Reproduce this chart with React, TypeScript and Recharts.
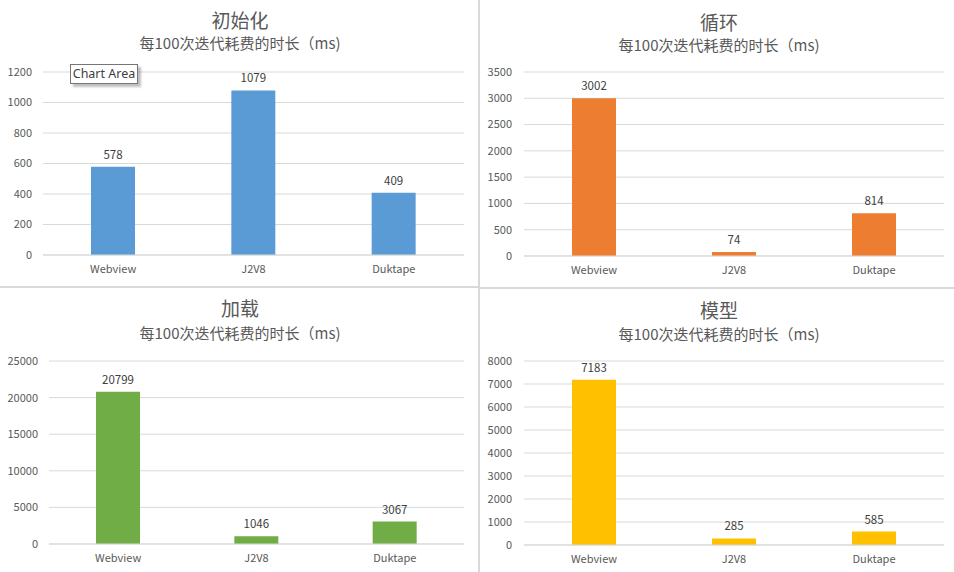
import React from 'react';
import { BarChart, Bar, XAxis, YAxis, CartesianGrid, LabelList } from 'recharts';

const categories = ['Webview', 'J2V8', 'Duktape'];
const initValues = [578, 1079, 409];
const loopValues = [3002, 74, 814];
const loadValues = [20799, 1046, 3067];
const modelValues = [7183, 285, 585];

const initTicks = [0, 200, 400, 600, 800, 1000, 1200];
const loopTicks = [0, 500, 1000, 1500, 2000, 2500, 3000, 3500];
const loadTicks = [0, 5000, 10000, 15000, 20000, 25000];
const modelTicks = [0, 1000, 2000, 3000, 4000, 5000, 6000, 7000, 8000];

const subtitle = '每100次迭代耗费的时长（ms)';
const FONT = '"Noto Sans CJK SC", "Noto Sans", sans-serif';
const TEXT = '#595959';

type PanelProps = {
  left: number;
  top: number;
  width: number;
  height: number;
  title: string;
  values: number[];
  ticks: number[];
  color: string;
  titleY: number;
  subY: number;
  titleX: number;
  margin: { top: number; right: number; left: number; bottom: number };
  yWidth: number;
  yTickMargin: number;
  xTickMargin: number;
  children?: React.ReactNode;
};

function Panel(p: PanelProps) {
  const data = categories.map((c, i) => ({ name: c, value: p.values[i] }));
  return (
    <div style={{ position: 'absolute', left: p.left, top: p.top, width: p.width, height: p.height, background: '#fff', fontFamily: FONT }}>
      <div style={{ position: 'absolute', left: 0, width: p.titleX * 2, top: p.titleY - 12, height: 24, lineHeight: '24px', textAlign: 'center', fontSize: 19, color: TEXT }}>{p.title}</div>
      <div style={{ position: 'absolute', left: 0, width: p.titleX * 2, top: p.subY - 10, height: 20, lineHeight: '20px', textAlign: 'center', fontSize: 15, color: TEXT }}>{subtitle}</div>
      <div style={{ position: 'absolute', left: 0, top: 0 }}>
        <BarChart width={p.width} height={p.height} data={data} margin={p.margin}>
          <CartesianGrid vertical={false} stroke="#D9D9D9" />
          <XAxis
            dataKey="name"
            tickLine={false}
            axisLine={{ stroke: '#D9D9D9' }}
            tick={{ fill: TEXT, fontSize: 11, fontFamily: FONT }}
            tickMargin={p.xTickMargin}
            height={30}
          />
          <YAxis
            domain={[p.ticks[0], p.ticks[p.ticks.length - 1]]}
            ticks={p.ticks}
            interval={0}
            axisLine={false}
            tickLine={false}
            width={p.yWidth}
            tickMargin={p.yTickMargin}
            tick={{ fill: TEXT, fontSize: 11, fontFamily: FONT }}
          />
          <Bar dataKey="value" fill={p.color} barSize={44} isAnimationActive={false}>
            <LabelList dataKey="value" position="top" offset={8} fill="#404040" fontSize={11.5} fontFamily={FONT} />
          </Bar>
        </BarChart>
      </div>
      {p.children}
    </div>
  );
}

export default function App() {
  return (
    <div style={{ position: 'absolute', left: 0, top: 0, width: 954, height: 572, background: '#fff', overflow: 'hidden' }}>
      <Panel
        left={0} top={0} width={478} height={286}
        title="初始化" values={initValues} ticks={initTicks} color="#5B9BD5"
        titleX={240} titleY={20} subY={43}
        margin={{ top: 72, right: 14, left: 0, bottom: 1 }}
        yWidth={43} yTickMargin={5} xTickMargin={4}
      >
        <div style={{ position: 'absolute', left: 70, top: 64, width: 66, height: 18, border: '1px solid #767676', background: '#fff', boxShadow: '3px 3px 2px rgba(0,0,0,0.25)', fontSize: 12.5, lineHeight: '18px', textAlign: 'center', color: '#404040', fontFamily: '"Noto Sans", sans-serif' }}>Chart Area</div>
      </Panel>
      <Panel
        left={480} top={0} width={474} height={287}
        title="循环" values={loopValues} ticks={loopTicks} color="#ED7D31"
        titleX={239} titleY={22} subY={45}
        margin={{ top: 72, right: 10, left: 0, bottom: 1 }}
        yWidth={44} yTickMargin={6} xTickMargin={4}
      />
      <Panel
        left={0} top={288} width={478} height={284}
        title="加载" values={loadValues} ticks={loadTicks} color="#70AD47"
        titleX={240} titleY={20} subY={45}
        margin={{ top: 73, right: 14, left: 0, bottom: -2 }}
        yWidth={49} yTickMargin={5} xTickMargin={4}
      />
      <Panel
        left={480} top={289} width={474} height={283}
        title="模型" values={modelValues} ticks={modelTicks} color="#FFC000"
        titleX={239} titleY={21} subY={45}
        margin={{ top: 72, right: 10, left: 0, bottom: -3 }}
        yWidth={44} yTickMargin={6} xTickMargin={4}
      />
      <div style={{ position: 'absolute', left: 478, top: 0, width: 2, height: 572, background: '#D9D9D9' }} />
      <div style={{ position: 'absolute', left: 0, top: 286, width: 478, height: 2, background: '#D9D9D9' }} />
      <div style={{ position: 'absolute', left: 480, top: 287, width: 474, height: 2, background: '#D9D9D9' }} />
    </div>
  );
}
